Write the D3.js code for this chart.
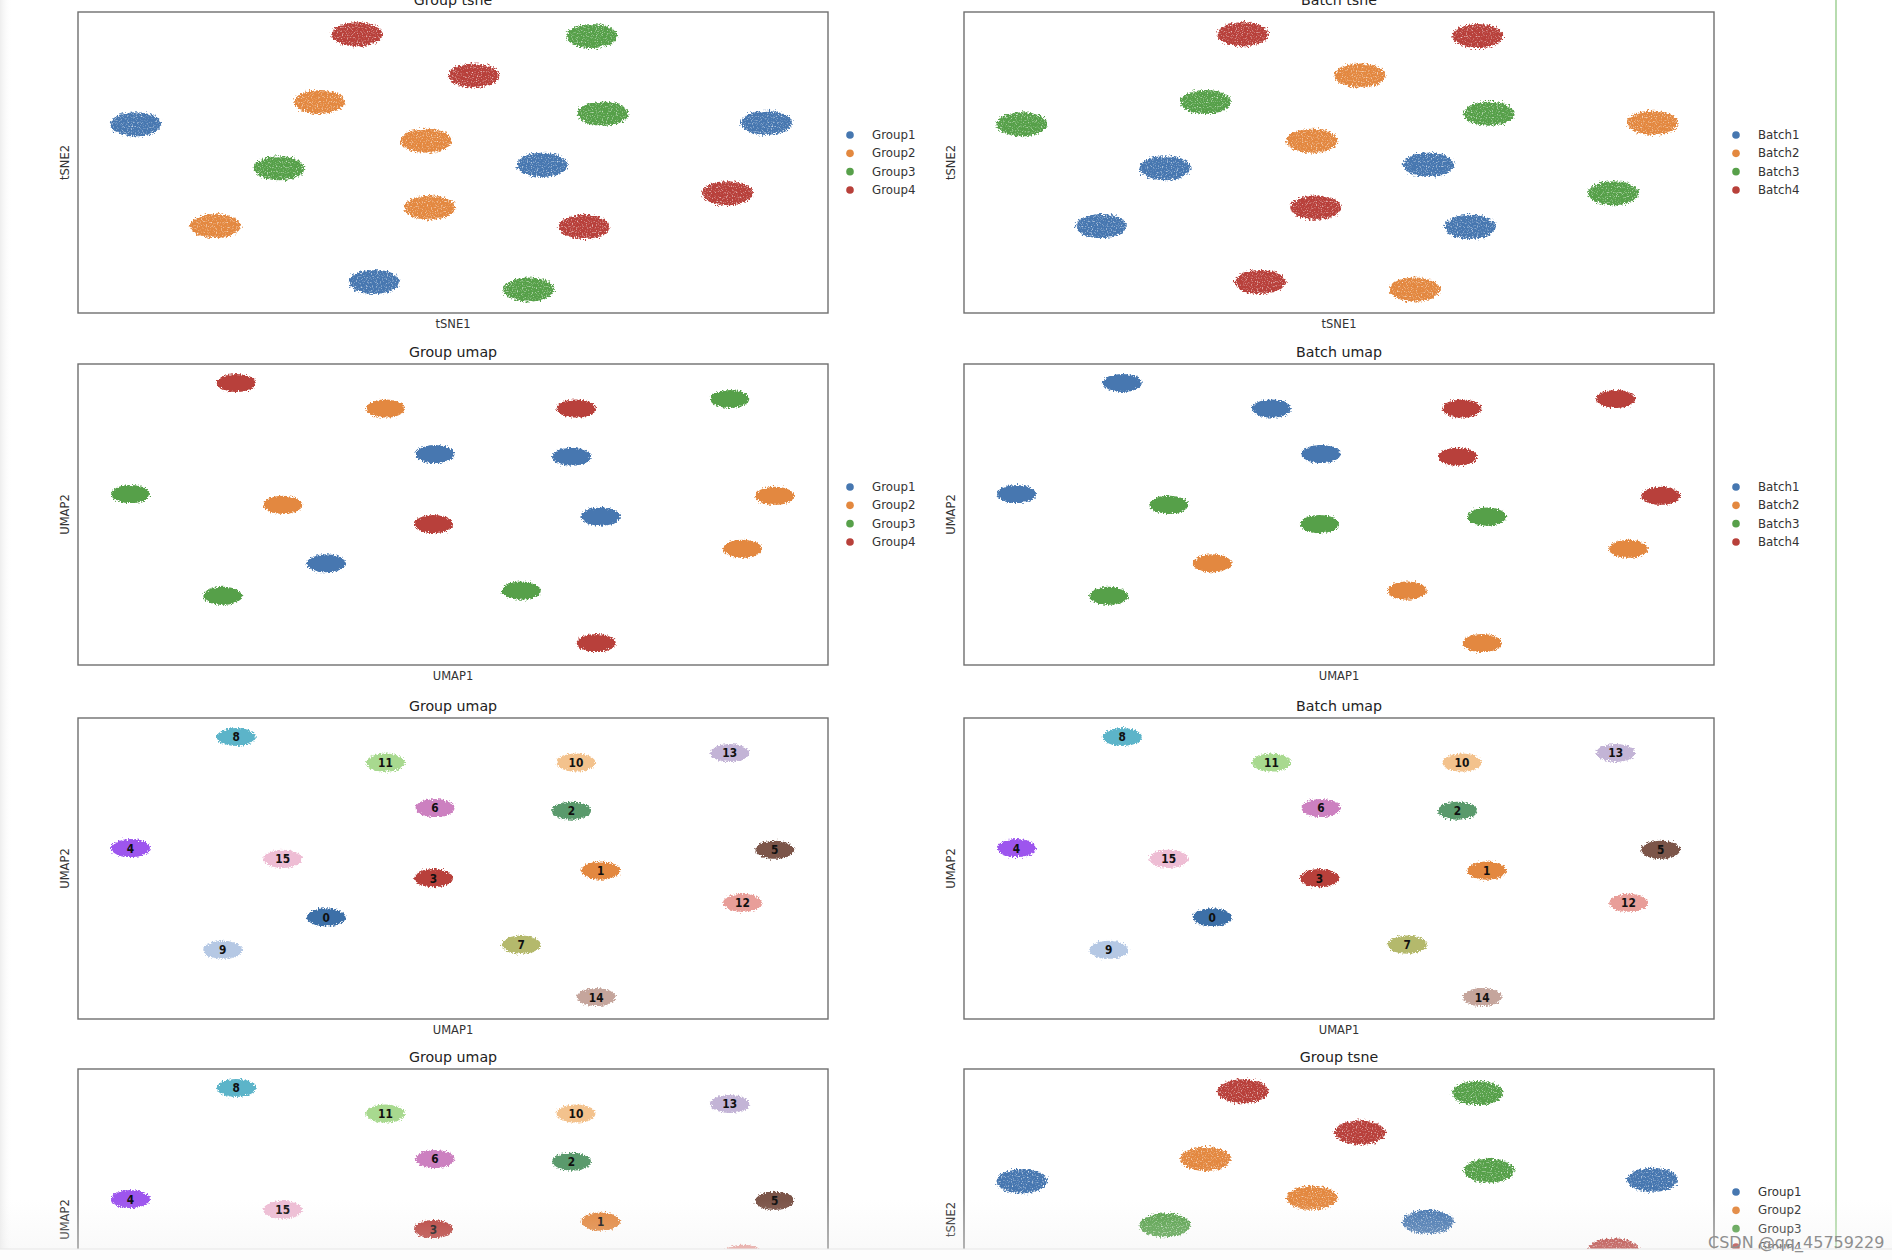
<!DOCTYPE html>
<html>
<head>
<meta charset="utf-8">
<script src="https://cdn.jsdelivr.net/npm/d3@7"></script>
<style>
html,body{margin:0;padding:0;background:#fff;}
svg{display:block;}
text{font-family:"DejaVu Sans",sans-serif;}
</style>
</head>
<body>
<svg id="chart" width="1892" height="1260"></svg>
<script>
// ---------------- DATA ----------------
const groupCats = ["Group1", "Group2", "Group3", "Group4"];
const batchCats = ["Batch1", "Batch2", "Batch3", "Batch4"];

// t-SNE cluster centres (16 clusters), normalised embedding units
const tsne1 = [37.2, 68.5, 52.8, 32.2, 70.0, 7.7, 91.8, 46.4, 61.9, 26.8, 86.6, 46.9, 18.3, 67.5, 39.5, 60.1];
const tsne2 = [92.6, 92.0, 78.9, 70.1, 66.2, 62.7, 63.2, 57.2, 49.2, 48.1, 39.8, 35.0, 28.9, 28.6, 10.3, 7.8];
const tsneGroup = ["Group4","Group3","Group4","Group2","Group3","Group1","Group1","Group2","Group1","Group3","Group4","Group2","Group2","Group4","Group1","Group3"];
const tsneBatch = ["Batch4","Batch4","Batch2","Batch3","Batch3","Batch3","Batch2","Batch2","Batch1","Batch1","Batch3","Batch4","Batch1","Batch1","Batch4","Batch2"];

// UMAP cluster centres (leiden clusters)
const leiden = ["8","11","10","13","6","2","4","15","5","1","3","12","0","9","7","14"];
const umap1 = [21.1, 41.0, 66.4, 86.9, 47.6, 65.8, 7.0, 27.3, 92.9, 69.7, 47.4, 88.6, 33.1, 19.3, 59.1, 69.1];
const umap2 = [93.7, 85.2, 85.2, 88.4, 70.1, 69.2, 56.8, 53.2, 56.2, 49.3, 46.8, 38.6, 33.8, 23.0, 24.7, 7.3];
const umapGroup = ["Group4","Group2","Group4","Group3","Group1","Group1","Group3","Group2","Group2","Group1","Group4","Group2","Group1","Group3","Group3","Group4"];
const umapBatch = ["Batch1","Batch1","Batch4","Batch4","Batch1","Batch4","Batch1","Batch3","Batch4","Batch3","Batch3","Batch2","Batch2","Batch3","Batch2","Batch2"];

// cluster spread (embedding units, half-width / half-height)
const tsneSpread = [3.4, 4.0];
const umapSpread = [2.6, 3.0];

// ---------------- STYLE ----------------
const catColors = ["#4677b0", "#e3883f", "#57a04a", "#b8403a"];
const leidenColors = ["#3d6fa8","#e3883f","#5a9a6c","#b8403a","#9d55ee","#7b5549","#cc80c0","#b4b96c",
                      "#5bb4c9","#b5c8e4","#f3c28d","#a8d98f","#e89e99","#c3b4d6","#c5a59c","#eebdd4"];
const leidenOrder = d3.range(16).map(String);

const svg = d3.select("#chart");
const W = 1892, H = 1260;
const colX = [78, 964], boxW = 750, boxH = 301;
const rowTop = [12, 364, 718, 1069];

// filters for point-cloud look
const defs = svg.append("defs");
function makeFilter(id, scale, freq, seed, speck) {
  const f = defs.append("filter").attr("id", id)
    .attr("x", "-40%").attr("y", "-40%").attr("width", "180%").attr("height", "180%");
  f.append("feTurbulence").attr("type", "fractalNoise").attr("baseFrequency", freq)
    .attr("numOctaves", 2).attr("seed", seed).attr("result", "noise");
  f.append("feDisplacementMap").attr("in", "SourceGraphic").attr("in2", "noise")
    .attr("scale", scale).attr("xChannelSelector", "R").attr("yChannelSelector", "G").attr("result", "disp");
  if (speck) {
    f.append("feTurbulence").attr("type", "fractalNoise").attr("baseFrequency", 0.8)
      .attr("numOctaves", 1).attr("seed", seed + 5).attr("result", "n2");
    f.append("feColorMatrix").attr("in", "n2").attr("type", "matrix")
      .attr("values", "0 0 0 0 0  0 0 0 0 0  0 0 0 0 0  0 0 0 -2.6 2.4").attr("result", "mask");
    f.append("feComposite").attr("in", "disp").attr("in2", "mask").attr("operator", "in").attr("result", "sp");
    f.append("feGaussianBlur").attr("in", "sp").attr("stdDeviation", 0.4);
  } else {
    f.append("feGaussianBlur").attr("in", "disp").attr("stdDeviation", 0.35);
  }
}
makeFilter("fTsne", 7, 0.55, 3, true);
makeFilter("fUmap", 5.5, 0.6, 11, false);

const bandGrad = defs.append("linearGradient").attr("id", "band").attr("x1", 0).attr("y1", 0).attr("x2", 0).attr("y2", 1);
bandGrad.append("stop").attr("offset", "0%").attr("stop-color", "#ececec").attr("stop-opacity", 0);
bandGrad.append("stop").attr("offset", "100%").attr("stop-color", "#ececec").attr("stop-opacity", 0.3);
const edgeGrad = defs.append("linearGradient").attr("id", "edge").attr("x1", 0).attr("y1", 0).attr("x2", 1).attr("y2", 0);
edgeGrad.append("stop").attr("offset", "0%").attr("stop-color", "#ececec").attr("stop-opacity", 0.9);
edgeGrad.append("stop").attr("offset", "100%").attr("stop-color", "#ffffff").attr("stop-opacity", 0);

// panel definitions
const panels = [
  {row:0, col:0, title:"Group tsne", emb:"tsne", color:"group"},
  {row:0, col:1, title:"Batch tsne", emb:"tsne", color:"batch"},
  {row:1, col:0, title:"Group umap", emb:"umap", color:"group"},
  {row:1, col:1, title:"Batch umap", emb:"umap", color:"batch"},
  {row:2, col:0, title:"Group umap", emb:"umap", color:"leiden"},
  {row:2, col:1, title:"Batch umap", emb:"umap", color:"leiden"},
  {row:3, col:0, title:"Group umap", emb:"umap", color:"leiden"},
  {row:3, col:1, title:"Group tsne", emb:"tsne", color:"group"}
];

const groupScale = d3.scaleOrdinal().domain(groupCats).range(catColors);
const batchScale = d3.scaleOrdinal().domain(batchCats).range(catColors);
const leidenScale = d3.scaleOrdinal().domain(leidenOrder).range(leidenColors);

panels.forEach(p => {
  const x0 = colX[p.col], y0 = rowTop[p.row];
  const xs = d3.scaleLinear().domain([0, 100]).range([x0, x0 + boxW]);
  const ys = d3.scaleLinear().domain([0, 100]).range([y0 + boxH, y0]);
  const g = svg.append("g");

  const isT = p.emb === "tsne";
  const X = isT ? tsne1 : umap1, Y = isT ? tsne2 : umap2;
  const spread = isT ? tsneSpread : umapSpread;
  const cats = isT ? (p.color === "group" ? tsneGroup : tsneBatch)
                   : (p.color === "group" ? umapGroup : p.color === "batch" ? umapBatch : leiden);
  const cs = p.color === "group" ? groupScale : p.color === "batch" ? batchScale : leidenScale;

  const data = X.map((v, i) => ({x: v, y: Y[i], c: cats[i]}));

  g.append("g").attr("filter", isT ? "url(#fTsne)" : "url(#fUmap)")
    .selectAll("ellipse").data(data).join("ellipse")
    .attr("cx", d => xs(d.x)).attr("cy", d => ys(d.y))
    .attr("rx", xs(spread[0]) - xs(0)).attr("ry", ys(0) - ys(spread[1]))
    .attr("fill", d => cs(d.c));

  // frame
  g.append("rect").attr("x", x0).attr("y", y0).attr("width", boxW).attr("height", boxH)
    .attr("fill", "none").attr("stroke", "#6f6f6f").attr("stroke-width", 1.4);

  // on-data labels
  if (p.color === "leiden") {
    g.selectAll("text.lab").data(data).join("text").attr("class", "lab")
      .attr("x", d => xs(d.x)).attr("y", d => ys(d.y))
      .attr("text-anchor", "middle").attr("dy", "0.36em")
      .attr("font-size", 12.5).attr("font-weight", "bold").attr("fill", "#111")
      .attr("transform", d => `translate(${xs(d.x)},0) scale(0.85,1) translate(${-xs(d.x)},0)`)
      .text(d => d.c);
  }

  // title & axis labels
  g.append("text").attr("x", x0 + boxW / 2).attr("y", y0 - 7).attr("text-anchor", "middle")
    .attr("font-size", 14.2).attr("fill", "#222").text(p.title);
  g.append("text").attr("x", x0 + boxW / 2).attr("y", y0 + boxH + 15).attr("text-anchor", "middle")
    .attr("font-size", 11.5).attr("fill", "#333").text(isT ? "tSNE1" : "UMAP1");
  g.append("text").attr("transform", `translate(${x0 - 9},${y0 + boxH / 2}) rotate(-90)`)
    .attr("text-anchor", "middle").attr("font-size", 11.5).attr("fill", "#333").text(isT ? "tSNE2" : "UMAP2");

  // legend
  if (p.color !== "leiden") {
    const lc = p.color === "group" ? groupCats : batchCats;
    const mid = y0 + boxH / 2, step = 18.3;
    const lg = g.append("g");
    lg.selectAll("circle").data(lc).join("circle")
      .attr("cx", x0 + boxW + 22).attr("cy", (d, i) => mid + (i - 1.5) * step)
      .attr("r", 3.8).attr("fill", d => cs(d));
    lg.selectAll("text").data(lc).join("text")
      .attr("x", x0 + boxW + 44).attr("y", (d, i) => mid + (i - 1.5) * step)
      .attr("dy", "0.35em").attr("font-size", 11.8).attr("fill", "#333").text(d => d);
  }
});

// page decorations of the screenshot
svg.append("rect").attr("x", 0).attr("y", 0).attr("width", 12).attr("height", 1249).attr("fill", "url(#edge)");
svg.append("line").attr("x1", 1836).attr("x2", 1836).attr("y1", 0).attr("y2", 1260)
  .attr("stroke", "#a6d49c").attr("stroke-width", 1.6);
svg.append("rect").attr("x", 0).attr("y", 1200).attr("width", W).attr("height", 49).attr("fill", "url(#band)");
svg.append("rect").attr("x", 0).attr("y", 1249).attr("width", W).attr("height", 11).attr("fill", "#fdfdfd");
svg.append("line").attr("x1", 0).attr("x2", W).attr("y1", 1249).attr("y2", 1249).attr("stroke", "#e6e6e6").attr("stroke-width", 1);
svg.append("text").attr("x", 1708).attr("y", 1248)
  .attr("font-family", "Liberation Sans, Arial, sans-serif").attr("font-size", 16).attr("fill", "#8e8e8e")
  .text("CSDN @qq_45759229");
</script>
</body>
</html>
